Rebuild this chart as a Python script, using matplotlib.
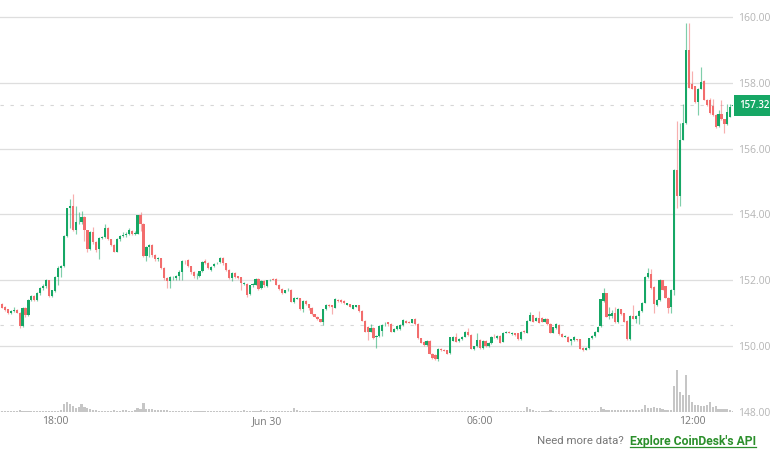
import numpy as np
import matplotlib
matplotlib.use("Agg")
import matplotlib.pyplot as plt
from matplotlib.lines import Line2D

# 5 minute candles
opens = [
    151.27, 151.2, 151.12, 151.0, 151.07, 151.1, 151.02, 150.6, 151.17, 150.94,
    151.4, 151.52, 151.4, 151.62, 151.77, 151.82, 152.0, 151.52, 151.67, 152.1,
    152.37, 152.42, 153.35, 154.19, 154.27, 153.54, 153.77, 153.77, 153.92, 153.52,
    152.94, 153.47, 153.17, 152.94, 153.3, 153.32, 153.6, 153.25, 153.07, 152.87,
    153.24, 153.34, 153.37, 153.42, 153.5, 153.42, 153.42, 153.97, 153.72, 152.74,
    153.0, 153.07, 152.77, 152.64, 152.67, 152.37, 152.07, 151.97, 152.1, 152.07,
    152.12, 152.24, 152.6, 152.62, 152.42, 152.25, 152.12, 152.14, 152.27, 152.6,
    152.54, 152.32, 152.42, 152.52, 152.57, 152.67, 152.52, 152.32, 152.07, 152.22,
    152.12, 152.09, 151.9, 151.9, 151.57, 151.87, 151.87, 152.05, 151.77, 151.97,
    151.84, 152.0, 152.04, 152.04, 151.87, 151.74, 151.62, 151.7, 151.72, 151.34,
    151.44, 151.45, 151.12, 151.37, 151.27, 151.17, 150.97, 150.9, 150.82, 150.74,
    151.12, 151.26, 151.24, 151.17, 151.4, 151.4, 151.37, 151.26, 151.27, 151.14,
    151.2, 151.24, 151.07, 150.77, 150.57, 150.44, 150.56, 150.27, 150.3, 150.47,
    150.67, 150.72, 150.67, 150.44, 150.52, 150.51, 150.64, 150.77, 150.73, 150.71,
    150.84, 150.67, 150.24, 150.14, 150.04, 150.16, 149.77, 149.74, 149.61, 149.91,
    149.89, 149.87, 149.79, 150.17, 150.27, 150.16, 150.21, 150.29, 150.44, 150.34,
    149.91, 149.99, 150.19, 149.94, 150.17, 149.99, 150.09, 150.29, 150.24, 150.31,
    150.14, 150.41, 150.44, 150.37, 150.39, 150.39, 150.21, 150.47, 150.41, 150.77,
    150.94, 150.77, 150.87, 150.87, 150.74, 150.84, 150.67, 150.41, 150.54, 150.64,
    150.37, 150.29, 150.29, 150.17, 150.19, 150.21, 150.21, 149.94, 149.89, 149.94,
    150.24, 150.31, 150.44, 150.6, 151.37, 151.6, 150.92, 150.92, 151.02, 150.72,
    151.12, 151.0, 150.77, 150.22, 150.92, 150.84, 150.92, 151.07, 151.32, 152.1,
    152.2, 151.8, 151.24, 151.4, 152.0, 151.82, 151.47, 151.2, 151.7, 155.35,
    154.57, 156.27, 156.77, 158.99, 157.97, 157.89, 157.42, 157.82, 158.05, 157.49,
    157.47, 157.29, 157.02, 156.69, 157.05, 156.89, 156.75, 156.97, 157.3,
]
closes = [
    151.17, 151.1, 151.0, 151.07, 151.1, 151.02, 150.6, 151.17, 150.94, 151.4,
    151.52, 151.4, 151.62, 151.77, 151.84, 152.0, 151.52, 151.7, 152.1, 152.37,
    152.42, 153.35, 154.19, 154.27, 153.54, 153.77, 153.77, 153.92, 153.52, 152.94,
    153.47, 153.17, 152.92, 153.3, 153.32, 153.6, 153.25, 153.07, 152.87, 153.24,
    153.34, 153.37, 153.42, 153.52, 153.42, 153.45, 153.97, 153.72, 152.74, 153.0,
    153.07, 152.77, 152.64, 152.67, 152.37, 152.07, 151.97, 152.1, 152.1, 152.12,
    152.24, 152.6, 152.58, 152.44, 152.25, 152.12, 152.14, 152.27, 152.57, 152.52,
    152.37, 152.4, 152.5, 152.54, 152.67, 152.52, 152.32, 152.07, 152.22, 152.1,
    152.07, 151.92, 151.92, 151.54, 151.85, 151.89, 152.05, 151.74, 151.97, 151.87,
    152.0, 152.02, 152.02, 151.87, 151.74, 151.6, 151.7, 151.72, 151.35, 151.47,
    151.47, 151.14, 151.37, 151.27, 151.15, 150.97, 150.9, 150.82, 150.74, 151.12,
    151.26, 151.22, 151.2, 151.44, 151.36, 151.34, 151.3, 151.3, 151.2, 151.24,
    151.24, 151.07, 150.77, 150.44, 150.42, 150.56, 150.25, 150.3, 150.6, 150.64,
    150.67, 150.67, 150.44, 150.52, 150.62, 150.64, 150.79, 150.71, 150.71, 150.81,
    150.67, 150.24, 150.11, 150.04, 150.16, 149.77, 149.64, 149.61, 149.91, 149.87,
    149.86, 149.77, 150.27, 150.27, 150.14, 150.21, 150.27, 150.44, 150.34, 149.92,
    149.99, 150.19, 149.94, 150.17, 149.99, 150.11, 150.27, 150.27, 150.31, 150.11,
    150.41, 150.44, 150.41, 150.41, 150.34, 150.21, 150.44, 150.42, 150.77, 150.94,
    150.74, 150.87, 150.71, 150.74, 150.84, 150.67, 150.41, 150.57, 150.67, 150.37,
    150.29, 150.31, 150.14, 150.21, 150.27, 150.19, 149.92, 149.87, 149.94, 150.24,
    150.31, 150.44, 150.57, 151.42, 151.6, 150.9, 150.97, 151.02, 150.72, 151.14,
    150.97, 150.74, 150.22, 150.92, 150.84, 150.92, 151.07, 151.32, 152.1, 152.22,
    151.77, 151.27, 151.4, 152.0, 151.72, 151.47, 151.17, 151.7, 155.35, 154.57,
    156.27, 156.77, 158.99, 157.85, 157.82, 157.42, 157.82, 158.02, 157.49, 157.32,
    157.07, 157.02, 156.67, 157.05, 156.89, 156.75, 157.12, 157.27, 157.32,
]
highs = [
    151.32, 151.22, 151.14, 151.09, 151.2, 151.14, 151.04, 151.2, 151.2, 151.42,
    151.55, 151.56, 151.64, 151.8, 151.88, 152.03, 152.02, 151.72, 152.12, 152.42,
    152.47, 153.37, 154.21, 154.47, 154.62, 154.27, 154.07, 154.1, 153.94, 153.54,
    153.5, 153.62, 153.2, 153.32, 153.36, 153.7, 153.62, 153.27, 153.09, 153.28,
    153.37, 153.47, 153.46, 153.6, 153.53, 153.5, 153.99, 154.07, 153.74, 153.03,
    153.09, 153.09, 152.79, 152.7, 152.69, 152.39, 152.09, 152.12, 152.14, 152.15,
    152.3, 152.63, 152.63, 152.65, 152.44, 152.27, 152.22, 152.29, 152.6, 152.64,
    152.56, 152.44, 152.53, 152.57, 152.7, 152.7, 152.54, 152.34, 152.25, 152.24,
    152.14, 152.1, 151.95, 151.92, 151.87, 151.92, 152.07, 152.07, 152.0, 152.0,
    152.02, 152.05, 152.06, 152.06, 151.89, 151.76, 151.72, 151.76, 151.74, 151.5,
    151.5, 151.47, 151.4, 151.39, 151.29, 151.19, 150.99, 150.92, 150.84, 151.14,
    151.28, 151.28, 151.26, 151.46, 151.42, 151.42, 151.39, 151.32, 151.29, 151.26,
    151.26, 151.26, 151.09, 150.79, 150.6, 150.67, 150.58, 150.33, 150.63, 150.67,
    150.72, 150.74, 150.69, 150.55, 150.64, 150.67, 150.82, 150.79, 150.75, 150.84,
    150.87, 150.69, 150.26, 150.16, 150.18, 150.18, 149.79, 149.76, 149.93, 149.94,
    149.92, 149.89, 150.29, 150.3, 150.41, 150.24, 150.3, 150.47, 150.54, 150.36,
    150.02, 150.41, 150.21, 150.2, 150.19, 150.14, 150.3, 150.37, 150.34, 150.33,
    150.43, 150.47, 150.46, 150.43, 150.41, 150.41, 150.46, 150.49, 150.79, 151.04,
    150.96, 150.9, 151.07, 150.9, 150.87, 150.86, 150.69, 150.59, 150.7, 150.66,
    150.39, 150.34, 150.31, 150.23, 150.3, 150.23, 150.23, 149.96, 149.97, 150.26,
    150.34, 150.47, 150.6, 151.44, 151.77, 151.62, 151.2, 151.1, 151.2, 151.17,
    151.14, 151.02, 150.79, 150.94, 151.24, 150.95, 151.1, 151.35, 152.13, 152.37,
    152.34, 151.82, 151.43, 152.03, 152.02, 151.84, 151.49, 151.73, 155.37, 156.85,
    156.77, 157.35, 159.82, 159.82, 158.35, 157.91, 157.84, 158.47, 158.07, 157.51,
    157.55, 157.52, 157.04, 157.17, 157.47, 156.91, 157.37, 157.37, 157.36,
]
lows = [
    151.15, 151.08, 150.98, 150.98, 151.05, 151.0, 150.56, 150.58, 150.9, 150.92,
    151.38, 151.38, 151.37, 151.55, 151.72, 151.78, 151.5, 151.5, 151.65, 151.85,
    152.1, 152.4, 153.33, 153.6, 153.5, 153.42, 153.7, 153.7, 153.2, 152.87,
    152.92, 153.1, 152.85, 152.65, 153.25, 153.3, 153.22, 153.03, 152.85, 152.85,
    153.2, 153.32, 153.33, 153.38, 153.38, 153.38, 153.4, 153.5, 152.7, 152.6,
    152.72, 152.72, 152.6, 152.6, 152.33, 152.0, 151.77, 151.77, 152.0, 152.02,
    152.0, 152.0, 152.5, 152.4, 152.2, 152.08, 152.05, 152.1, 152.25, 152.5,
    152.33, 152.28, 152.4, 152.5, 152.52, 152.47, 152.28, 152.03, 151.97, 152.07,
    152.05, 151.7, 151.87, 151.5, 151.55, 151.8, 151.85, 151.72, 151.75, 151.8,
    151.8, 151.98, 152.0, 151.85, 151.7, 151.58, 151.6, 151.68, 151.33, 151.32,
    151.42, 151.1, 151.04, 151.25, 151.1, 150.95, 150.88, 150.8, 150.72, 150.64,
    151.1, 151.2, 150.97, 151.15, 151.34, 151.3, 151.28, 151.24, 151.18, 151.12,
    151.18, 151.05, 150.75, 150.42, 150.19, 150.42, 150.22, 149.94, 150.28, 150.32,
    150.6, 150.6, 150.42, 150.42, 150.5, 150.48, 150.62, 150.69, 150.69, 150.69,
    150.63, 150.22, 150.09, 150.02, 150.0, 149.75, 149.6, 149.57, 149.55, 149.85,
    149.84, 149.75, 149.77, 150.15, 150.12, 150.14, 150.19, 150.27, 150.32, 149.9,
    149.88, 149.97, 149.92, 149.92, 149.97, 149.97, 150.07, 150.25, 150.22, 150.09,
    150.12, 150.39, 150.39, 150.35, 150.32, 150.18, 150.19, 150.4, 150.39, 150.75,
    150.72, 150.75, 150.69, 150.72, 150.72, 150.65, 150.39, 150.39, 150.52, 150.35,
    150.27, 150.27, 150.12, 150.04, 150.17, 150.17, 149.9, 149.85, 149.87, 149.92,
    150.22, 150.29, 150.42, 150.58, 151.35, 150.88, 150.82, 150.85, 150.7, 150.7,
    150.95, 150.72, 150.2, 150.2, 150.82, 150.7, 150.67, 151.05, 151.3, 152.08,
    151.75, 151.02, 151.22, 151.38, 151.7, 151.45, 151.0, 151.02, 151.55, 154.2,
    154.27, 156.25, 156.75, 157.83, 157.8, 157.4, 157.02, 157.8, 157.47, 157.3,
    157.05, 157.0, 156.62, 156.67, 156.87, 156.47, 156.73, 156.95, 157.28,
]
volumes = [
    1, 1, 1, 1, 1, 1, 2, 1, 1, 1,
    1, 1, 1, 1, 1, 1, 1, 1, 1.5, 1.5,
    2, 8, 10, 8, 6, 4.5, 5, 8, 5, 4,
    3, 2.5, 2, 1, 1.5, 1, 1.5, 1, 2, 1.5,
    1.5, 2, 2, 1.5, 1.5, 2.5, 4, 3, 9, 3,
    3, 3, 2, 2, 2, 2, 2, 1.5, 1, 1,
    1.5, 1, 1.5, 1, 1, 1.5, 1.5, 1, 1, 1,
    1.5, 1, 1, 1, 1, 1, 1, 1.5, 1, 1,
    1, 1, 2, 1, 1, 1.5, 1, 1, 2, 1,
    1, 1, 1.5, 1, 1, 1, 1.5, 1, 1, 4,
    2.5, 1.5, 1, 1, 1, 1.5, 1, 1, 1, 1,
    1.5, 1, 1, 1, 1.5, 1, 1, 1, 1, 1,
    1, 1.5, 1, 1, 1, 1, 1.5, 1, 1, 1,
    1.5, 1, 1, 1, 1, 1, 1, 1.5, 1, 1,
    1, 1, 1, 1, 1.5, 1, 1, 1, 1, 1,
    1, 1, 1, 1.5, 1, 1, 1, 1, 1, 1,
    1.5, 1, 1, 1, 1, 1, 1.5, 1, 1, 1,
    1, 1, 1, 1, 1, 1, 1, 1, 5, 3,
    2, 1.5, 1, 1.5, 1, 1, 2.5, 1.5, 1, 1,
    1, 1, 1, 1, 1.5, 1, 1, 1, 1, 1,
    1, 1, 1, 5, 3, 2.5, 2, 2, 2, 2.5,
    2.5, 2, 2, 2, 2.5, 2, 2.5, 3, 7, 4,
    4, 5, 4, 4, 3, 2.5, 2, 2, 26, 42,
    20, 17, 37, 17, 10, 7, 7, 6, 6, 7,
    10, 5, 6, 3, 3, 3, 3, 2, 1.5,
]
price_ticks = [148, 150, 152, 154, 156, 158, 160]
time_ticks = [18, 90, 162, 234]
time_labels = ["18:00", "Jun 30", "06:00", "12:00"]
last_price = 157.32
prev_close = 150.64

GREEN = "#16a765"
RED = "#f26d6d"
GRID = "#dedede"
LABEL = "#b5b5b5"

plt.rcParams["font.family"] = ["Open Sans", "DejaVu Sans"]

fig = plt.figure(figsize=(7.7, 4.55), dpi=100)
pos = [0, 43 / 455, 733 / 770, 412 / 455]

# volume on its own scale at the bottom, behind the candles
ax2 = fig.add_axes(pos, zorder=2)
ax2.set_xlim(-0.644, 247.9)
ax2.set_ylim(0, 412)
ax2.set_axis_off()

ax = fig.add_axes(pos, zorder=1)

opens = np.array(opens)
closes = np.array(closes)
highs = np.array(highs)
lows = np.array(lows)
idx = np.arange(len(closes))
up = closes >= opens
colors = np.where(up, GREEN, RED)

ax2.bar(idx, volumes, width=0.72, color="#c6c6c6", lw=0)

# wicks are thin and pale, bodies about 2px
ax.vlines(idx, lows, highs, colors=colors, lw=0.85, alpha=0.55, zorder=3)
ax.bar(idx, closes - opens, bottom=opens, width=0.74, color=colors, lw=0, zorder=4)

ax.set_xlim(-0.644, 247.9)
ax.set_ylim(148, 160.515)

ax.yaxis.tick_right()
ax.set_yticks(price_ticks)
ax.set_yticklabels([f"{p}.000" for p in price_ticks], color=LABEL, fontsize=7.5)
ax.set_xticks(time_ticks)
ax.set_xticklabels(time_labels, color="#777777", fontsize=7.5)
ax.tick_params(axis="both", length=0)
ax.tick_params(axis="y", pad=3.6)
ax.tick_params(axis="x", pad=3)
ax.grid(axis="y", color=GRID, lw=0.9, zorder=0)
ax.set_axisbelow(True)
for s in ax.spines.values():
    s.set_visible(False)
ax.patch.set_alpha(0)

# dashed price lines
ax.axhline(last_price, color="#d6d6d6", lw=0.8, dashes=(3, 6), zorder=1)
ax.axhline(prev_close, color="#d6d6d6", lw=0.8, dashes=(3, 6), zorder=1)

# last price badge
ax.text(1.0082, last_price, f"{last_price:.2f}", transform=ax.get_yaxis_transform(),
        color="white", fontsize=7, fontweight="semibold", va="center", ha="left",
        bbox=dict(boxstyle="square,pad=0.5", fc=GREEN, ec="none"), zorder=6, clip_on=False)

# footer
fig.text(537 / 770, 1 - 441 / 455, "Need more data?", color="#777777", fontsize=8.2,
         family=["Roboto", "DejaVu Sans"], va="center", ha="left")
fig.text(630 / 770, 1 - 441 / 455, "Explore CoinDesk's API", color="#2b8f2b", fontsize=8.75,
         fontweight="bold", family=["Roboto", "DejaVu Sans"], va="center", ha="left")
fig.add_artist(Line2D([630 / 770, 756 / 770], [1 - 447 / 455, 1 - 447 / 455],
                      color="#2b8f2b", lw=0.9))

fig.savefig("out.png", dpi=100)
